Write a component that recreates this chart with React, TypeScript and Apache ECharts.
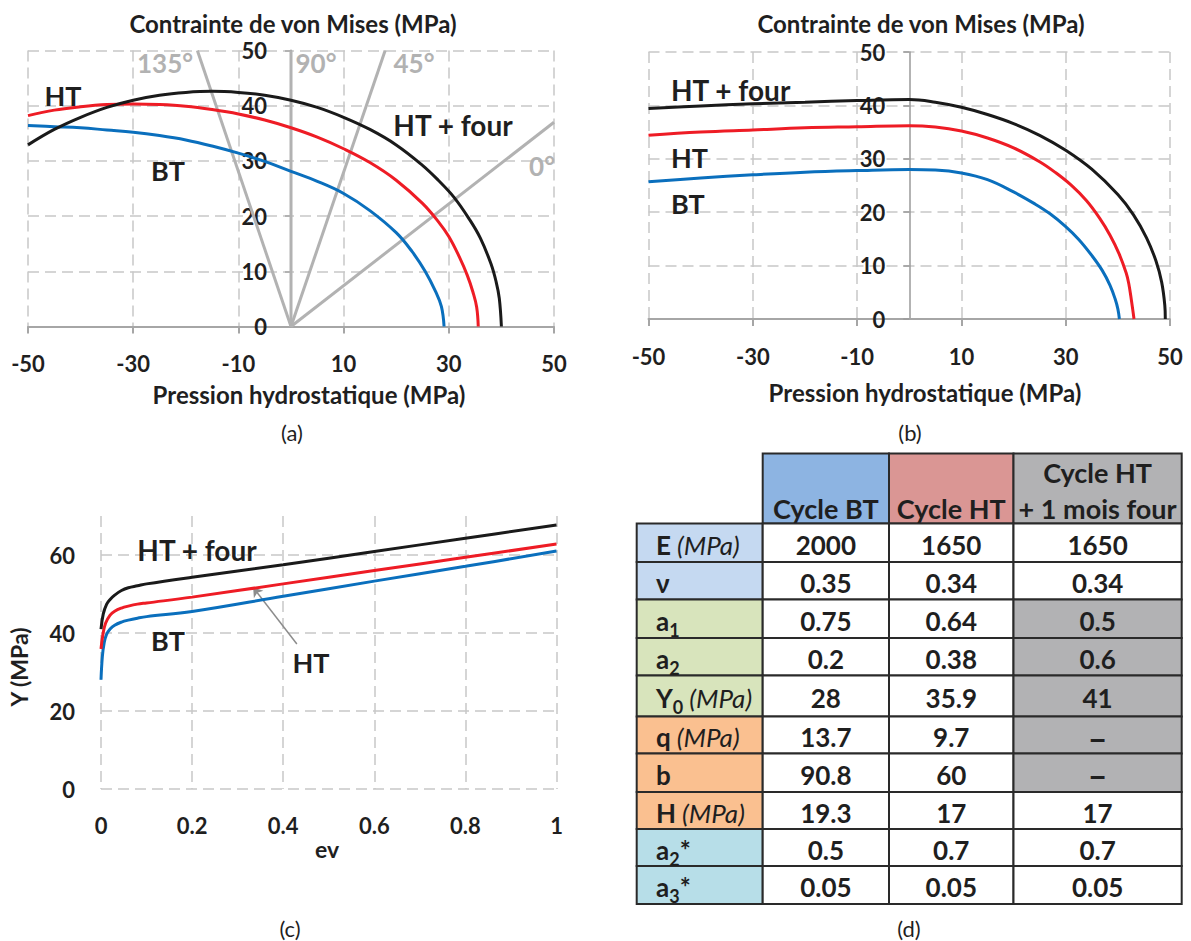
import React, { useEffect, useRef } from "react";
import * as echarts from "echarts";

const FONT = "Lato, 'Open Sans', sans-serif";
const INK = "#1f1f1f";
const GRIDC = "#c8c8c8";
const AXISC = "#a6a6a6";
const RAYC = "#b2b2b2";
const C_BT = "#0a6fbd";
const C_HT = "#ee1c25";
const C_HF = "#1a1a1a";

// ---------- (a) ----------
const aXTicks = [-50, 50, 20];
const aBT = [[-50,36.4],[-45,36.2],[-40,36.0],[-35,35.6],[-30,35.2],[-25,34.6],[-20,33.8],[-15,32.7],[-10,31.4],[-5,29.9],[0,28.1],[5,26.3],[10,24.1],[15,21.0],[20,17.0],[23,13.6],[25.5,10.0],[27.5,6.3],[28.6,3.6],[29.1,0]];
const aHT = [[-50,38.2],[-45,39.2],[-40,39.8],[-35,40.2],[-30,40.3],[-25,40.2],[-20,39.9],[-15,39.3],[-10,38.5],[-5,37.4],[0,36.0],[5,34.3],[10,32.2],[15,29.7],[20,26.5],[25,22.3],[28,19.0],[30,16.3],[32,12.6],[33.5,9.3],[34.6,6.2],[35.3,3.5],[35.6,0]];
const aHF = [[-50,32.9],[-45,35.7],[-40,37.9],[-35,39.7],[-30,41.0],[-25,41.9],[-20,42.4],[-15,42.6],[-10,42.4],[-5,41.9],[0,41.0],[5,39.7],[10,37.9],[15,35.7],[20,32.9],[25,29.2],[28,26.5],[31,23.4],[34,19.3],[36,16.0],[38,11.4],[39,8.1],[39.6,5.1],[40,0]];
const aRay135 = [[0,0],[-17.8,50]];
const aRay90 = [[0,0],[0,50]];
const aRay45 = [[0,0],[17.9,50]];
const aRay0 = [[0,0],[50,37]];

// ---------- (b) ----------
const bBT = [[-50,25.7],[-40,26.4],[-30,27.0],[-20,27.5],[-10,27.8],[0,28.0],[5,27.9],[10,27.35],[15,26.1],[20,23.8],[24,21.6],[27,19.7],[30,17.3],[32.5,14.9],[35,11.9],[37,9.1],[38.5,6.3],[39.5,3.7],[40,1.9],[40.3,0]];
const bHT = [[-50,34.4],[-40,35.0],[-30,35.4],[-20,35.8],[-10,36.0],[0,36.2],[5,35.95],[10,35.2],[15,33.9],[20,32.05],[25,29.45],[28,27.45],[31,25.1],[34,22.15],[36.5,18.9],[38.5,15.7],[40.2,12.3],[41.6,8.6],[42.1,6.6],[42.6,3.5],[43.1,0]];
const bHF = [[-50,39.4],[-40,39.9],[-30,40.3],[-20,40.6],[-10,40.9],[0,41.1],[5,40.6],[10,39.65],[15,38.3],[20,36.6],[25,34.4],[30,31.6],[35,28.05],[40,23.3],[43,19.5],[45.5,15.2],[47.3,10.9],[48.4,6.9],[49,2.6],[49.1,0]];

// ---------- (c) ----------
const cBT = [[0,28],[0.003,34],[0.007,37.5],[0.012,39.6],[0.02,41],[0.03,42],[0.045,42.8],[0.06,43.3],[0.08,43.8],[0.1,44.2],[0.2,45.5],[0.4,49.4],[0.6,53.3],[0.8,57.1],[1,61]];
const cHT = [[0,35.9],[0.004,39.5],[0.01,42.5],[0.02,44.6],[0.03,45.6],[0.045,46.4],[0.06,46.9],[0.08,47.4],[0.1,47.7],[0.2,49.2],[0.4,52.6],[0.6,56],[0.8,59.4],[1,62.8]];
const cHF = [[0,41],[0.005,44.9],[0.0125,47.4],[0.02,48.6],[0.03,49.7],[0.045,50.9],[0.06,51.6],[0.08,52.1],[0.1,52.6],[0.2,54.3],[0.4,57.5],[0.6,60.9],[0.8,64.3],[1,67.7]];
const cArrowFrom = [0.43, 37.2];
const cArrowTo = [0.334, 51.7];

// ---------- (d) table ----------
const tableHeaders = [["Cycle BT"], ["Cycle HT"], ["Cycle HT", "+ 1 mois four"]];
const rowMain = ["E", "ν", "a", "a", "Y", "q", "b", "H", "a", "a"];
const rowSub = ["", "", "1", "2", "0", "", "", "", "2", "3"];
const rowSup = ["", "", "", "", "", "", "", "", "*", "*"];
const rowUnit = [true, false, false, false, true, true, false, true, false, false];
const rowGroup = [0, 0, 1, 1, 1, 2, 2, 2, 3, 3];
const colBT = ["2000", "0.35", "0.75", "0.2", "28", "13.7", "90.8", "19.3", "0.5", "0.05"];
const colHT = ["1650", "0.34", "0.64", "0.38", "35.9", "9.7", "60", "17", "0.7", "0.05"];
const colHF = ["1650", "0.34", "0.5", "0.6", "41", "–", "–", "17", "0.7", "0.05"];
const grayHF = [false, false, true, true, true, true, true, false, false, false];

const headerFill = ["#8db4e2", "#da9694", "#b2b2b4"];
const groupFill = ["#c5d9f1", "#d8e4bc", "#fac090", "#b7dee8"];
const grayFill = "#b2b2b4";
const colX = [636.7, 762.7, 889, 1013.5, 1181.7];
const rowY = [453.5, 523.5, 562, 599.5, 638, 675.5, 716.5, 753.5, 792, 829, 866, 904];

function txt(text: string, x: number, y: number, size: number, opts: any = {}) {
  return {
    type: "text",
    x,
    y,
    rotation: opts.rotation || 0,
    z: 100,
    silent: true,
    style: {
      text,
      x: 0,
      y: 0,
      font: `${opts.italic ? "italic " : ""}${opts.weight || "bold"} ${size}px ${FONT}`,
      fill: opts.color || INK,
      align: opts.align || "center",
      textAlign: opts.align || "center",
      verticalAlign: "middle",
      textVerticalAlign: "middle",
    },
  };
}

function buildTable() {
  const els: any[] = [];
  const stroke = "#2a2a2a";
  for (let j = 0; j < 3; j++) {
    els.push({
      type: "rect",
      z: 50,
      shape: { x: colX[j + 1], y: rowY[0], width: colX[j + 2] - colX[j + 1], height: rowY[1] - rowY[0] },
      style: { fill: headerFill[j], stroke, lineWidth: 2 },
    });
    const lines = tableHeaders[j];
    const cx = (colX[j + 1] + colX[j + 2]) / 2;
    lines.forEach((ln, k) => {
      els.push(txt(ln, cx, 508 - 36 * (lines.length - 1 - k), 27));
    });
  }
  const cols = [colBT, colHT, colHF];
  for (let i = 0; i < rowMain.length; i++) {
    const y0 = rowY[i + 1];
    const h = rowY[i + 2] - y0;
    els.push({
      type: "rect",
      z: 50,
      shape: { x: colX[0], y: y0, width: colX[1] - colX[0], height: h },
      style: { fill: groupFill[rowGroup[i]], stroke, lineWidth: 2 },
    });
    for (let j = 0; j < 3; j++) {
      const fill = j === 2 && grayHF[i] ? grayFill : "#ffffff";
      els.push({
        type: "rect",
        z: 50,
        shape: { x: colX[j + 1], y: y0, width: colX[j + 2] - colX[j + 1], height: h },
        style: { fill, stroke, lineWidth: 2 },
      });
      const v = cols[j][i];
      els.push(txt(v, (colX[j + 1] + colX[j + 2]) / 2, y0 + h / 2 + 2, v === "–" ? 34 : 26));
    }
    let rich = `{m|${rowMain[i]}}`;
    if (rowSub[i]) rich += `{s|${rowSub[i]}}`;
    if (rowSup[i]) rich += `{m|${rowSup[i]}}`;
    if (rowUnit[i]) rich += `{i| (MPa)}`;
    els.push({
      type: "text",
      x: 656,
      y: y0 + h / 2 + 2,
      z: 100,
      silent: true,
      style: {
        text: rich,
        x: 0,
        y: 0,
        align: "left",
        textAlign: "left",
        verticalAlign: "middle",
        textVerticalAlign: "middle",
        fill: INK,
        font: `bold 26px ${FONT}`,
        rich: {
          m: { font: `bold 26px ${FONT}`, fill: INK },
          s: { font: `bold 18px ${FONT}`, fill: INK, padding: [18, 0, 0, 0] },
          i: { font: `italic 400 26px ${FONT}`, fill: INK },
        },
      },
    });
  }
  return els;
}

const labelFont = { fontSize: 22, fontWeight: "bold" as const, fontFamily: FONT, color: INK };
const dashed = { type: [11, 6], color: GRIDC, width: 1.5 };

function curve(name: string, data: number[][], color: string, gi: number, extra: any = {}) {
  return {
    type: "line",
    name,
    xAxisIndex: gi,
    yAxisIndex: gi,
    data,
    showSymbol: false,
    symbol: "none",
    smooth: 0.4,
    silent: true,
    lineStyle: { color, width: 3 },
    z: 5,
    ...extra,
  };
}

function ray(data: number[][]) {
  return {
    type: "line",
    xAxisIndex: 0,
    yAxisIndex: 0,
    data,
    symbol: "none",
    silent: true,
    lineStyle: { color: RAYC, width: 3 },
    z: 3,
  };
}

export default function App() {
  const ref = useRef<HTMLDivElement>(null);
  useEffect(() => {
    if (!ref.current) return;
    const chart = echarts.init(ref.current, undefined, { renderer: "svg" });
    const gA = { left: 28, top: 50.5, width: 526, height: 276 };
    const gB = { left: 648.5, top: 52, width: 521.5, height: 267 };
    const gC = { left: 101, top: 516, width: 455.5, height: 273 };
    const option: any = {
      animation: false,
      backgroundColor: "#ffffff",
      grid: [gA, gB, gC],
      xAxis: [
        {
          gridIndex: 0, type: "value", min: aXTicks[0], max: aXTicks[1], interval: aXTicks[2],
          axisLine: { show: true, onZero: true, lineStyle: { color: AXISC, width: 2 } },
          axisTick: { show: true, length: 7, lineStyle: { color: AXISC, width: 2 } },
          axisLabel: { ...labelFont, margin: 26 },
          splitLine: { show: true, lineStyle: dashed },
        },
        {
          gridIndex: 1, type: "value", min: -50, max: 50, interval: 20,
          axisLine: { show: true, onZero: true, lineStyle: { color: AXISC, width: 2 } },
          axisTick: { show: true, length: 7, lineStyle: { color: AXISC, width: 2 } },
          axisLabel: { ...labelFont, margin: 26 },
          splitLine: { show: true, lineStyle: dashed },
        },
        {
          gridIndex: 2, type: "value", min: 0, max: 1, interval: 0.2,
          axisLine: { show: false },
          axisTick: { show: false },
          axisLabel: { ...labelFont, margin: 25 },
          splitLine: { show: true, lineStyle: dashed },
        },
      ],
      yAxis: [
        {
          gridIndex: 0, type: "value", min: 0, max: 50, interval: 10, position: "left",
          offset: -gA.width / 2,
          axisLine: { show: true, onZero: false, lineStyle: { color: AXISC, width: 2 } },
          axisTick: { show: true, length: 6, lineStyle: { color: AXISC, width: 1.5 } },
          axisLabel: { ...labelFont, margin: 24 },
          splitLine: { show: true, lineStyle: dashed },
        },
        {
          gridIndex: 1, type: "value", min: 0, max: 50, interval: 10, position: "left",
          offset: -gB.width / 2,
          axisLine: { show: true, onZero: false, lineStyle: { color: "#9a9a9a", width: 1.5 } },
          axisTick: { show: true, length: 6, lineStyle: { color: "#9a9a9a", width: 1.5 } },
          axisLabel: { ...labelFont, margin: 24 },
          splitLine: { show: true, lineStyle: dashed },
        },
        {
          gridIndex: 2, type: "value", min: 0, max: 70, interval: 20,
          axisLine: { show: false },
          axisTick: { show: false },
          axisLabel: { ...labelFont, margin: 26, showMaxLabel: false, formatter: (v: number) => (v === 70 ? "" : String(v)) },
          splitLine: { show: true, showMaxLine: false, lineStyle: dashed },
        },
      ],
      series: [
        ray(aRay135), ray(aRay90), ray(aRay45), ray(aRay0),
        curve("BT", aBT, C_BT, 0),
        curve("HT", aHT, C_HT, 0),
        curve("HT + four", aHF, C_HF, 0),
        curve("BT", bBT, C_BT, 1),
        curve("HT", bHT, C_HT, 1),
        curve("HT + four", bHF, C_HF, 1),
        curve("BT", cBT, C_BT, 2),
        curve("HT", cHT, C_HT, 2, {
          markLine: {
            silent: true,
            symbol: ["none", "arrow"],
            symbolSize: 9,
            label: { show: false },
            lineStyle: { color: "#8c8c8c", width: 1.5, type: "solid" },
            data: [[{ coord: cArrowFrom }, { coord: cArrowTo }]],
          },
        }),
        curve("HT + four", cHF, C_HF, 2),
      ],
      graphic: [
        // (a)
        txt("Contrainte de von Mises (MPa)", 293, 23, 24),
        txt("Pression hydrostatique (MPa)", 309, 394, 24),
        txt("HT", 63, 95, 27),
        txt("BT", 168, 170, 27),
        txt("HT + four", 453, 125, 28),
        txt("135°", 165, 63, 26, { color: RAYC }),
        txt("90°", 316, 63, 26, { color: RAYC }),
        txt("45°", 414, 63, 26, { color: RAYC }),
        txt("0°", 542, 166, 26, { color: RAYC }),
        txt("(a)", 292, 432, 22, { weight: "normal" }),
        // (b)
        txt("Contrainte de von Mises (MPa)", 921, 23, 24),
        txt("Pression hydrostatique (MPa)", 925, 392, 24),
        txt("HT + four", 671, 90, 28, { align: "left" }),
        txt("HT", 671, 157, 27, { align: "left" }),
        txt("BT", 671, 203, 27, { align: "left" }),
        txt("(b)", 910, 432, 22, { weight: "normal" }),
        // (c)
        txt("Y (MPa)", 19, 667, 23, { rotation: Math.PI / 2 }),
        txt("ev", 327, 849, 23),
        txt("HT + four", 197, 550, 28),
        txt("BT", 168, 640, 27),
        txt("HT", 311, 662, 27),
        txt("(c)", 290, 928, 22, { weight: "normal" }),
        // (d)
        ...buildTable(),
        txt("(d)", 909, 928, 22, { weight: "normal" }),
      ],
    };
    chart.setOption(option);
    return () => chart.dispose();
  }, []);
  return (
    <div
      ref={ref}
      style={{ position: "absolute", left: 0, top: 0, width: 1191, height: 941, background: "#fff" }}
    />
  );
}
